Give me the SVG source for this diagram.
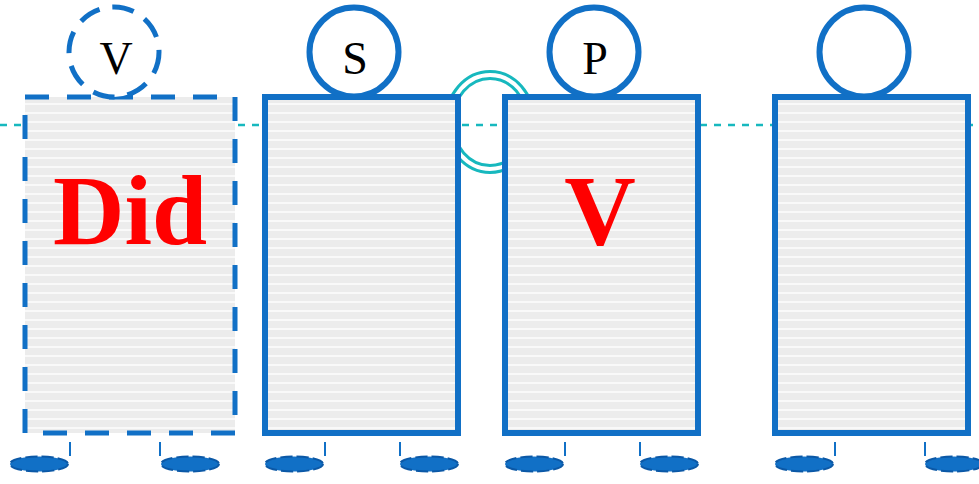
<svg xmlns="http://www.w3.org/2000/svg" width="979" height="484" viewBox="0 0 979 484">
<defs>
<pattern id="stripes" x="0" y="97" width="10" height="9" patternUnits="userSpaceOnUse">
<rect x="0" y="0" width="10" height="9" fill="#ececec"/>
<rect x="0" y="6" width="10" height="2" fill="#f9f9f9"/>
</pattern>
</defs>
<style>
.box{fill:url(#stripes);stroke:#1170c6;stroke-width:6}
.dbox{fill:url(#stripes);stroke:#1170c6;stroke-width:5;stroke-dasharray:24 18}
.head{fill:#fff;stroke:#1170c6;stroke-width:6}
.dhead{fill:#fff;stroke:#1170c6;stroke-width:5;stroke-dasharray:22 13}
.lbl{font-family:"Liberation Serif",serif;font-size:46px;fill:#000;text-anchor:middle}
.big{font-family:"Liberation Serif",serif;font-size:99px;font-weight:bold;fill:#ff0000;text-anchor:middle}
.tick{stroke:#1170c6;stroke-width:2}
.foot{fill:#1170c6;stroke:#0b58a6;stroke-width:2;stroke-dasharray:12 4}
</style>
<g id="connectors">
<line x1="0" y1="125" x2="979" y2="125" stroke="#17b8be" stroke-width="2.5" stroke-dasharray="7 7"/>
<ellipse cx="490" cy="122" rx="41" ry="47" fill="none" stroke="#17b8be" stroke-width="10"/>
<ellipse cx="490" cy="122" rx="41" ry="47" fill="none" stroke="#fff" stroke-width="4"/>
</g>
<g id="node1">
<rect class="dbox" x="25" y="97" width="210" height="336"/>
<circle class="dhead" cx="114" cy="52" r="45"/>
<text class="lbl" x="116" y="74">V</text>
<text class="big" x="130" y="244">Did</text>
<line class="tick" x1="70" y1="442" x2="70" y2="456"/>
<line class="tick" x1="160" y1="442" x2="160" y2="456"/>
<ellipse class="foot" cx="39" cy="464" rx="29" ry="7.5"/>
<ellipse class="foot" cx="190" cy="464" rx="29" ry="7.5"/>
</g>
<g id="node2">
<rect class="box" x="265" y="97" width="193" height="336"/>
<circle class="head" cx="354" cy="52" r="44.5"/>
<text class="lbl" x="355" y="74">S</text>
<line class="tick" x1="325" y1="442" x2="325" y2="456"/>
<line class="tick" x1="400" y1="442" x2="400" y2="456"/>
<ellipse class="foot" cx="294" cy="464" rx="29" ry="7.5"/>
<ellipse class="foot" cx="429" cy="464" rx="29" ry="7.5"/>
</g>
<g id="node3">
<rect class="box" x="505" y="97" width="193" height="336"/>
<circle class="head" cx="594" cy="52" r="44.5"/>
<text class="lbl" x="595" y="74">P</text>
<text class="big" x="600" y="244">V</text>
<line class="tick" x1="565" y1="442" x2="565" y2="456"/>
<line class="tick" x1="640" y1="442" x2="640" y2="456"/>
<ellipse class="foot" cx="534" cy="464" rx="29" ry="7.5"/>
<ellipse class="foot" cx="669" cy="464" rx="29" ry="7.5"/>
</g>
<g id="node4">
<rect class="box" x="775" y="97" width="193" height="336"/>
<circle class="head" cx="864" cy="52" r="44.5"/>
<line class="tick" x1="835" y1="442" x2="835" y2="456"/>
<line class="tick" x1="925" y1="442" x2="925" y2="456"/>
<ellipse class="foot" cx="804" cy="464" rx="29" ry="7.5"/>
<ellipse class="foot" cx="954" cy="464" rx="29" ry="7.5"/>
</g>
</svg>
